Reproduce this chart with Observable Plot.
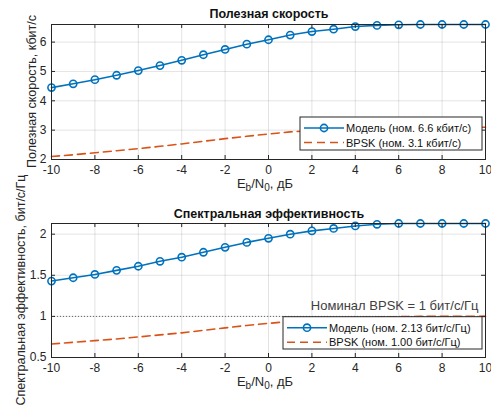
<!DOCTYPE html>
<html><head><meta charset="utf-8">
<script src="https://cdn.jsdelivr.net/npm/d3@7"></script>
<script src="https://cdn.jsdelivr.net/npm/@observablehq/plot@0.6"></script>
<style>
html,body{margin:0;padding:0;background:#fff;}
#chart{width:491px;height:409px;position:relative;overflow:hidden;background:#fff;}
#chart svg{display:block;overflow:visible;}
</style></head><body><div id="chart"></div>
<script>
// ---- data ----
const ebn0 = [-10,-9,-8,-7,-6,-5,-4,-3,-2,-1,0,1,2,3,4,5,6,7,8,9,10];
const rateModel = [4.45,4.58,4.72,4.87,5.03,5.20,5.38,5.57,5.75,5.93,6.08,6.24,6.36,6.44,6.53,6.57,6.59,6.60,6.60,6.60,6.60];
const rateBpsk  = [2.10,2.16,2.23,2.30,2.37,2.45,2.53,2.62,2.71,2.79,2.87,2.94,2.99,3.03,3.06,3.08,3.09,3.10,3.10,3.10,3.10];
const seModel = [1.43,1.47,1.51,1.56,1.61,1.67,1.72,1.78,1.84,1.90,1.95,2.00,2.04,2.07,2.10,2.12,2.13,2.13,2.13,2.13,2.13];
const seBpsk  = [0.665,0.685,0.705,0.725,0.75,0.775,0.80,0.83,0.86,0.89,0.915,0.94,0.96,0.975,0.985,0.993,0.997,1.0,1.0,1.0,1.0];
const xTicks = [-10,-8,-6,-4,-2,0,2,4,6,8,10];
const rateTicks = [2,3,4,5,6];
const seTicks = [0.5,1,1.5,2];
const nominalSE = 1;
const titles = ["Полезная скорость", "Спектральная эффективность"];
const yLabels = ["Полезная скорость, кбит/с", "Спектральная эффективность, бит/с/Гц"];
const legendTop = ["Модель (ном. 6.6 кбит/с)", "BPSK (ном. 3.1 кбит/с)"];
const legendBottom = ["Модель (ном. 2.13 бит/с/Гц)", "BPSK (ном. 1.00 бит/с/Гц)"];
const nominalText = "Номинал BPSK = 1 бит/с/Гц";

// ---- styles ----
const FONT = '"Liberation Sans", Arial, Helvetica, sans-serif';
const BLUE = "#0072BD", ORANGE = "#D95319", AX = "#262626";
const W = 491, ML = 51, MR = 6;

function panel(o) {
  const data = ebn0.map((x, i) => ({x, m: o.model[i], b: o.bpsk[i]}));
  const ph = o.height - o.mt - o.mb, pw = W - ML - MR;
  const marks = [
    Plot.gridX(xTicks, {stroke: "#000", strokeOpacity: 0.11}),
    Plot.gridY(o.yTicks, {stroke: "#000", strokeOpacity: 0.11})
  ];
  if (o.nominal != null) {
    marks.push(Plot.ruleY([o.nominal], {stroke: "#444", strokeDasharray: "1,2", strokeWidth: 0.8}));
    marks.push(Plot.text([{x: ebn0[ebn0.length - 1], y: o.nominal}], {x: "x", y: "y", text: () => nominalText,
      textAnchor: "end", dx: -7, dy: -11, fontSize: 13, fill: "#404040"}));
  }
  marks.push(
    Plot.line(data, {x: "x", y: "b", stroke: ORANGE, strokeWidth: 1.6, strokeDasharray: "8,5"}),
    Plot.line(data, {x: "x", y: "m", stroke: BLUE, strokeWidth: 1.6}),
    Plot.dot(data, {x: "x", y: "m", r: 3.6, stroke: BLUE, strokeWidth: 1.6, fill: "none"}),
    Plot.ruleX(xTicks, {x: d => d, insetTop: ph - 4, stroke: AX}),
    Plot.ruleX(xTicks, {x: d => d, insetBottom: ph - 4, stroke: AX}),
    Plot.ruleY(o.yTicks, {y: d => d, insetRight: pw - 4, stroke: AX}),
    Plot.ruleY(o.yTicks, {y: d => d, insetLeft: pw - 4, stroke: AX}),
    Plot.frame({stroke: AX}),
    Plot.axisX(xTicks, {tickSize: 0, tickPadding: 6, tickFormat: d => String(d), fill: AX, fontSize: 12, label: null}),
    Plot.axisY(o.yTicks, {tickSize: 0, tickPadding: 5, tickFormat: d => String(d), fill: AX, fontSize: 12, label: null})
  );
  const svg = Plot.plot({
    width: W, height: o.height,
    marginLeft: ML, marginRight: MR, marginTop: o.mt, marginBottom: o.mb,
    x: {domain: [ebn0[0], ebn0[ebn0.length - 1]]},
    y: {domain: o.yDomain},
    style: {fontFamily: FONT, fontSize: "12px", overflow: "visible", background: "transparent"},
    marks
  });
  const s = d3.select(svg);
  const cx = ML + pw / 2;
  // title
  s.append("text").attr("x", cx + 1).attr("y", 18).attr("text-anchor", "middle")
    .attr("font-weight", "bold").attr("font-size", 12.5).attr("fill", "#111").attr("font-family", FONT).text(o.title);
  // x label with subscripts
  const xl = s.append("text").attr("x", cx - 3).attr("y", o.mt + ph + 29).attr("text-anchor", "middle")
    .attr("font-size", 13).attr("fill", AX).attr("font-family", FONT);
  xl.append("tspan").text("E");
  xl.append("tspan").attr("dy", 3).attr("font-size", 10).text("b");
  xl.append("tspan").attr("dy", -3).text("/N");
  xl.append("tspan").attr("dy", 3).attr("font-size", 10).text("0");
  xl.append("tspan").attr("dy", -3).text(", дБ");
  // y label
  s.append("text").attr("transform", `translate(${o.ylabelX},${o.mt + ph / 2}) rotate(-90)`)
    .attr("text-anchor", "middle").attr("font-size", 12.5).attr("fill", AX).attr("font-family", FONT).text(o.ylabel);
  // legend
  const L = o.legend;
  const g = s.append("g");
  g.append("rect").attr("x", L.x0).attr("y", L.y0).attr("width", L.x1 - L.x0).attr("height", L.y1 - L.y0)
    .attr("fill", "#fff").attr("stroke", AX).attr("stroke-width", 1);
  const ly = [L.y0 + 11, L.y0 + 25.5];
  g.append("line").attr("x1", L.x0 + 4).attr("x2", L.x0 + 44).attr("y1", ly[0]).attr("y2", ly[0])
    .attr("stroke", BLUE).attr("stroke-width", 1.6);
  g.append("circle").attr("cx", L.x0 + 24).attr("cy", ly[0]).attr("r", 3.6).attr("fill", "none")
    .attr("stroke", BLUE).attr("stroke-width", 1.6);
  g.append("line").attr("x1", L.x0 + 4).attr("x2", L.x0 + 44).attr("y1", ly[1]).attr("y2", ly[1])
    .attr("stroke", ORANGE).attr("stroke-width", 1.6).attr("stroke-dasharray", "8,5");
  L.labels.forEach((t, i) => {
    g.append("text").attr("x", L.x0 + 46).attr("y", ly[i] + 4).attr("font-size", 11)
      .attr("text-anchor", "start")
      .attr("fill", "#111").attr("font-family", FONT).text(t);
  });
  return svg;
}

const chart = document.getElementById("chart");
chart.appendChild(panel({
  height: 200, mt: 24, mb: 41, yDomain: [2, 6.6], yTicks: rateTicks,
  model: rateModel, bpsk: rateBpsk, title: titles[0], ylabel: yLabels[0], ylabelX: 35.5,
  legend: {x0: 300, x1: 482, y0: 117, y1: 150, labels: legendTop}
}));
chart.appendChild(panel({
  height: 209, mt: 23, mb: 52, yDomain: [0.5, 2.13], yTicks: seTicks,
  model: seModel, bpsk: seBpsk, title: titles[1], ylabel: yLabels[1], ylabelX: 25,
  legend: {x0: 283, x1: 482, y0: 116.7, y1: 149, labels: legendBottom},
  nominal: nominalSE
}));
</script></body></html>
